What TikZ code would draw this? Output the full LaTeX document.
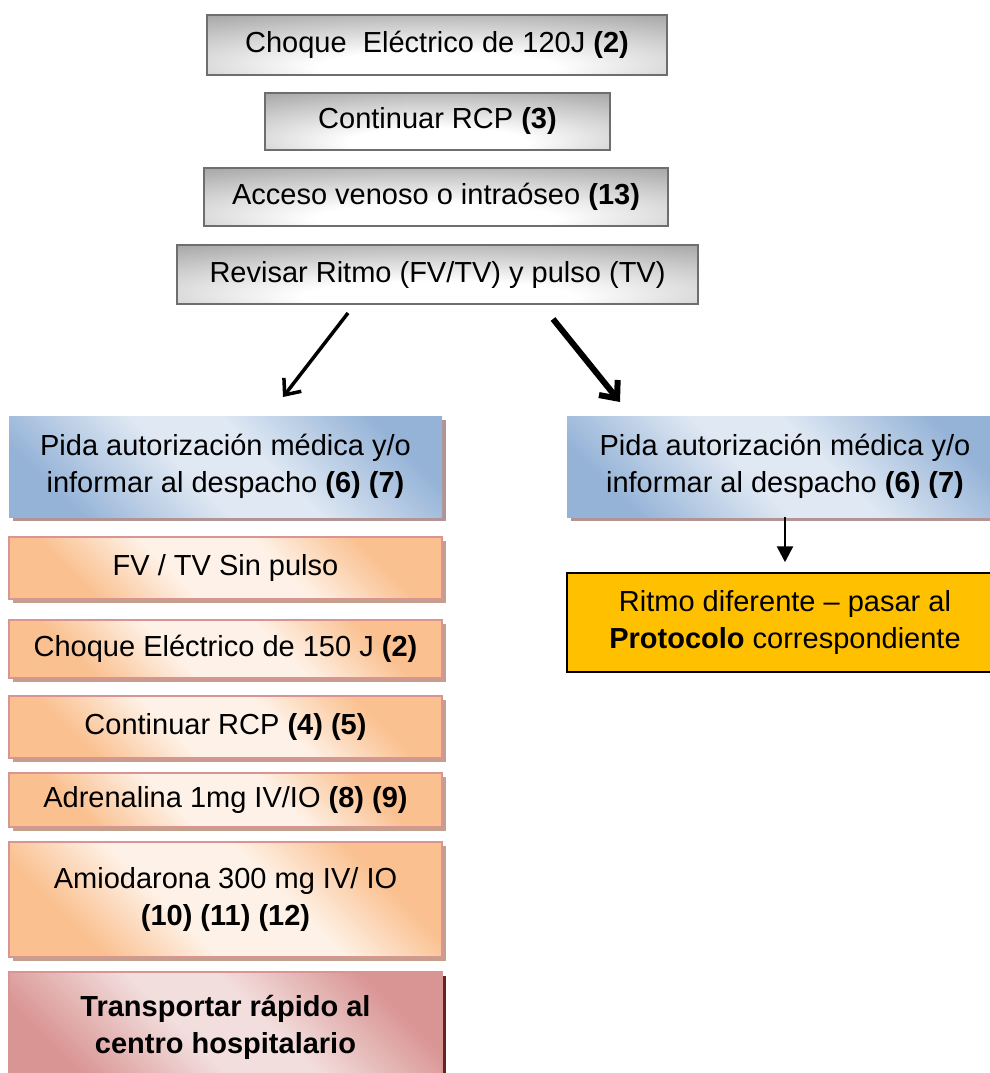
\documentclass[tikz,border=0pt]{standalone}
\usepackage{fontspec}
\setmainfont{Liberation Sans}
\usetikzlibrary{arrows.meta,shadows}

\definecolor{grayDark}{HTML}{939393}
\definecolor{grayEdge}{HTML}{6E6E6E}
\definecolor{blueDark}{HTML}{95B3D7}
\definecolor{blueLight}{HTML}{DFE8F3}
\definecolor{blueShadow}{HTML}{B39494}
\definecolor{orangeDark}{HTML}{FAC08F}
\definecolor{orangeLight}{HTML}{FEF2E8}
\definecolor{orangeEdge}{HTML}{D99594}
\definecolor{orangeShadow}{HTML}{C4A08C}
\definecolor{pinkDark}{HTML}{D99594}
\definecolor{pinkLight}{HTML}{F2DEDD}
\definecolor{pinkShadow}{HTML}{632523}
\definecolor{amber}{HTML}{FFC000}

% soft grey glow rising from the bottom edge of the upper boxes
\pgfdeclareradialshading{grayglow}{\pgfpoint{0bp}{-22bp}}{%
  color(0bp)=(white); color(13bp)=(white); color(50bp)=(grayDark); color(80bp)=(grayDark)}
% diagonal bands: dark corners, light band through the middle
\pgfdeclareverticalshading{blueband}{100bp}{%
  color(0bp)=(blueDark); color(24bp)=(blueDark); color(44bp)=(blueLight);
  color(56bp)=(blueLight); color(76bp)=(blueDark); color(100bp)=(blueDark)}
\pgfdeclareverticalshading{orangeband}{100bp}{%
  color(0bp)=(orangeDark); color(27bp)=(orangeDark); color(42bp)=(orangeLight);
  color(58bp)=(orangeLight); color(73bp)=(orangeDark); color(100bp)=(orangeDark)}
\pgfdeclareverticalshading{pinkband}{100bp}{%
  color(0bp)=(pinkDark); color(25bp)=(pinkDark); color(44bp)=(pinkLight);
  color(56bp)=(pinkLight); color(75bp)=(pinkDark); color(100bp)=(pinkDark)}

\begin{document}
\begin{tikzpicture}[x=1pt,y=-1pt,
  every node/.style={font=\fontsize{29}{37}\selectfont, align=center, inner sep=0pt},
  graybox/.style={draw=grayEdge, line width=2pt, shade, shading=grayglow},
  bluebox/.style={shade, shading=blueband, shading angle=-45,
    drop shadow={shadow xshift=4pt, shadow yshift=-4pt, fill=blueShadow, opacity=1}},
  orangebox/.style={draw=orangeEdge, line width=2pt,
    shade, shading=orangeband, shading angle=-45,
    drop shadow={shadow xshift=4pt, shadow yshift=-4pt, fill=orangeShadow, opacity=1}},
  pinkbox/.style={draw=orangeEdge, line width=2pt,
    shade, shading=pinkband, shading angle=-45,
    drop shadow={shadow xshift=4pt, shadow yshift=-4pt, fill=pinkShadow, opacity=1}},
  amberbox/.style={draw=black, line width=1.5pt, fill=amber},
  leftcol/.style={minimum width=433pt},
  rightcol/.style={minimum width=436pt},
  branch/.style={line width=3.5pt, -{Straight Barb[length=13pt,width=22pt]}},
  branchthick/.style={line width=6pt, -{Straight Barb[length=14pt,width=24pt]}},
  down/.style={line width=2.5pt, -{Triangle[length=16pt,width=16pt]}, shorten >=10pt}
]
\useasboundingbox (0,0) rectangle (990,1073);

% upper sequence
\node[graybox, minimum width=460pt, minimum height=60pt] (g1) at (437,45)
  {Choque\ \ Eléctrico de 120J \textbf{(2)}};
\node[graybox, minimum width=345pt, minimum height=57pt] (g2) at (437.5,121.5)
  {Continuar RCP \textbf{(3)}};
\node[graybox, minimum width=464pt, minimum height=58pt] (g3) at (436,197)
  {Acceso venoso o intraóseo \textbf{(13)}};
\node[graybox, minimum width=521pt, minimum height=59pt] (g4) at (437.5,274.5)
  {Revisar Ritmo (FV/TV) y pulso (TV)};

% left branch
\node[bluebox, leftcol, minimum height=101pt] (lb) at (225.5,466.5)
  {Pida autorización médica y/o\\informar al despacho \textbf{(6) (7)}};
\node[orangebox, leftcol, minimum height=62pt] (o1) at (225.5,568)
  {FV / TV Sin pulso};
\node[orangebox, leftcol, minimum height=58pt] (o2) at (225.5,649)
  {Choque Eléctrico de 150 J \textbf{(2)}};
\node[orangebox, leftcol, minimum height=62pt] (o3) at (225.5,727)
  {Continuar RCP \textbf{(4) (5)}};
\node[orangebox, leftcol, minimum height=54pt] (o4) at (225.5,800)
  {Adrenalina 1mg IV/IO \textbf{(8) (9)}};
\node[orangebox, leftcol, minimum height=115pt] (o5) at (225.5,899.5)
  {Amiodarona 300 mg IV/ IO\\\textbf{(10) (11) (12)}};
\node[pinkbox, leftcol, minimum height=110pt] (tr) at (225.5,1027)
  {\textbf{Transportar rápido al}\\\textbf{centro hospitalario}};

% right branch
\node[bluebox, rightcol, minimum height=101pt] (rb) at (785,466.5)
  {Pida autorización médica y/o\\informar al despacho \textbf{(6) (7)}};
\node[amberbox, rightcol, minimum height=99pt] (ro) at (785,622.5)
  {Ritmo diferente – pasar al\\\textbf{Protocolo} correspondiente};

% branching arrows below the rhythm check
\coordinate (la1) at (348,313);
\coordinate (la2) at (283,397);
\coordinate (ra1) at (553,319);
\coordinate (ra2) at (620,402);
\draw[branch] (la1) -- (la2);
\draw[branchthick] (ra1) -- (ra2);
\draw[down] (rb.south) -- (ro.north);
\end{tikzpicture}
\end{document}
